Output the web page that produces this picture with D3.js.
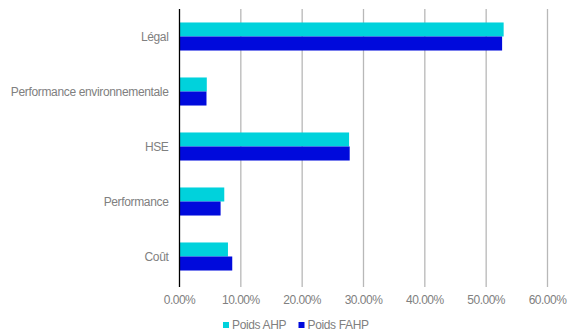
<!DOCTYPE html>
<html>
<head>
<meta charset="utf-8">
<script src="https://cdn.jsdelivr.net/npm/d3@7"></script>
<style>
  html, body { margin: 0; padding: 0; background: #fff; }
  svg text { font-family: "Liberation Sans", Arial, sans-serif; fill: #808080; }
</style>
</head>
<body>
<svg id="chart" width="568" height="336"></svg>
<script>
// Criteria, top to bottom
const categories = ["Légal", "Performance environnementale", "HSE", "Performance", "Coût"];
// Weights in percent
const poidsAHP  = [52.85, 4.45, 27.65, 7.3, 7.9];
const poidsFAHP = [52.6, 4.4, 27.75, 6.7, 8.6];
const seriesNames = ["Poids AHP", "Poids FAHP"];
const seriesColors = ["#00d2dc", "#000adc"];
const xTicks = [0, 10, 20, 30, 40, 50, 60];

const svg = d3.select("#chart");
const margin = { top: 9, left: 179.5 };
const plotW = 547.5 - margin.left;
const plotH = 284 - margin.top;

const g = svg.append("g").attr("transform", `translate(${margin.left},${margin.top})`);

const x = d3.scaleLinear().domain([0, 60]).range([0, plotW]);
const y = d3.scaleBand().domain(categories).range([0, plotH]).paddingInner(0.49).paddingOuter(0.245);
const ySub = d3.scaleBand().domain(seriesNames).range([0, y.bandwidth()]);

// Vertical gridlines
g.append("g").selectAll("line").data(xTicks.slice(1)).join("line")
  .attr("x1", d => x(d)).attr("x2", d => x(d))
  .attr("y1", 0).attr("y2", plotH + 3)
  .attr("stroke", "#b8b8b8").attr("stroke-width", 1.3);

// Bars
const rows = categories.map((c, i) => ({ c, vals: [poidsAHP[i], poidsFAHP[i]] }));
const grp = g.selectAll(".cat").data(rows).join("g")
  .attr("transform", d => `translate(0,${y(d.c)})`);
grp.selectAll("rect").data(d => d.vals.map((v, k) => ({ v, k }))).join("rect")
  .attr("x", 0)
  .attr("y", d => ySub(seriesNames[d.k]))
  .attr("width", d => x(d.v))
  .attr("height", ySub.bandwidth())
  .attr("fill", d => seriesColors[d.k]);

// Category axis line
g.append("line").attr("x1", 0).attr("x2", 0).attr("y1", 0).attr("y2", plotH + 3)
  .attr("stroke", "#000").attr("stroke-width", 1.3);

// Category labels
g.append("g").selectAll("text").data(categories).join("text")
  .attr("x", -11)
  .attr("y", d => y(d) + y.bandwidth() / 2)
  .attr("dy", "0.35em")
  .attr("text-anchor", "end")
  .attr("font-size", 12)
  .attr("letter-spacing", -0.35)
  .text(d => d);

// Value axis labels
g.append("g").selectAll("text").data(xTicks).join("text")
  .attr("x", d => x(d))
  .attr("y", plotH + 16)
  .attr("dy", "0.35em")
  .attr("text-anchor", "middle")
  .attr("font-size", 12)
  .attr("letter-spacing", -0.5)
  .text(d => d3.format(".2f")(d) + "%");

// Legend
const legend = svg.append("g").attr("transform", "translate(223,325)");
const legX = [0, 75.5];
seriesNames.forEach((s, i) => {
  const lg = legend.append("g").attr("transform", `translate(${legX[i]},0)`);
  lg.append("rect").attr("x", 0).attr("y", -3).attr("width", 6).attr("height", 6).attr("fill", seriesColors[i]);
  lg.append("text").attr("x", 9).attr("y", 0).attr("dy", "0.35em")
    .attr("font-size", 12).attr("letter-spacing", -0.35).text(s);
});
</script>
</body>
</html>
